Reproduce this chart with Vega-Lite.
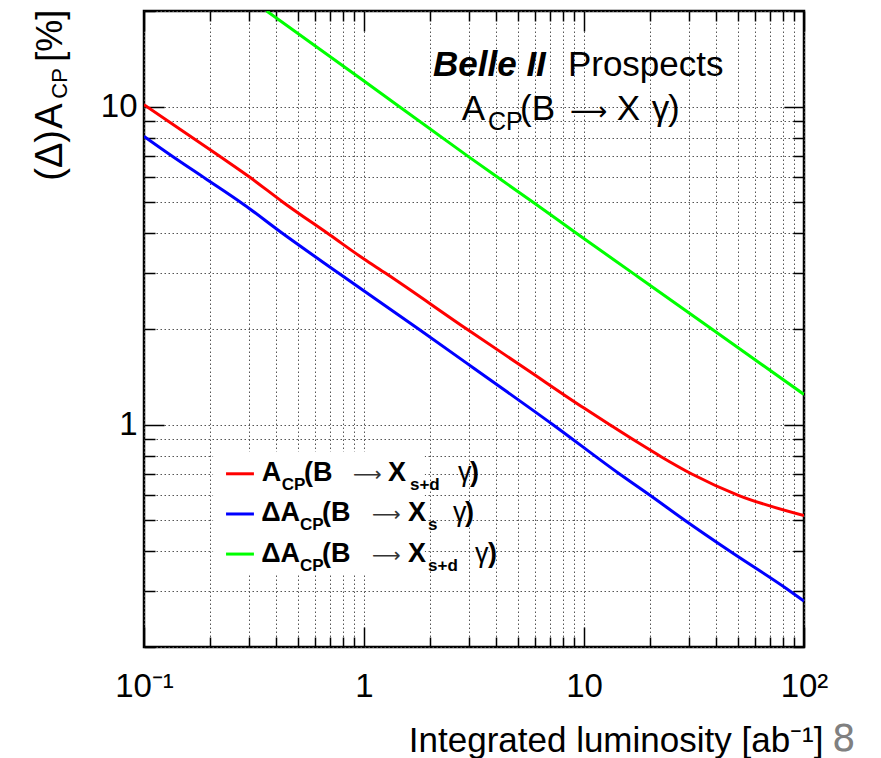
{
  "$schema": "https://vega.github.io/schema/vega-lite/v6.json",
  "width": 660,
  "height": 636,
  "autosize": "none",
  "padding": {"left": 144, "top": 11, "right": 77, "bottom": 111},
  "background": "white",
  "config": {
    "view": {"stroke": "black", "strokeWidth": 2.5},
    "font": "Liberation Sans"
  },
  "data": {"values": [{}]},
  "datasets": {
    "curves": [
      {"series": "ACP(B->Xs+d gamma)", "lumi": 0.1, "value": 10.15},
      {"series": "ACP(B->Xs+d gamma)", "lumi": 0.22, "value": 7.0},
      {"series": "ACP(B->Xs+d gamma)", "lumi": 0.303, "value": 6.0},
      {"series": "ACP(B->Xs+d gamma)", "lumi": 0.43, "value": 5.0},
      {"series": "ACP(B->Xs+d gamma)", "lumi": 0.70, "value": 3.95},
      {"series": "ACP(B->Xs+d gamma)", "lumi": 1.0, "value": 3.32},
      {"series": "ACP(B->Xs+d gamma)", "lumi": 1.25, "value": 3.0},
      {"series": "ACP(B->Xs+d gamma)", "lumi": 2.93, "value": 2.0},
      {"series": "ACP(B->Xs+d gamma)", "lumi": 5.43, "value": 1.5},
      {"series": "ACP(B->Xs+d gamma)", "lumi": 10, "value": 1.128},
      {"series": "ACP(B->Xs+d gamma)", "lumi": 13.1, "value": 1.0},
      {"series": "ACP(B->Xs+d gamma)", "lumi": 17.3, "value": 0.885},
      {"series": "ACP(B->Xs+d gamma)", "lumi": 22.5, "value": 0.792},
      {"series": "ACP(B->Xs+d gamma)", "lumi": 30.9, "value": 0.70},
      {"series": "ACP(B->Xs+d gamma)", "lumi": 50.3, "value": 0.6},
      {"series": "ACP(B->Xs+d gamma)", "lumi": 100, "value": 0.518},
      {"series": "dACP(B->Xs gamma)", "lumi": 0.1, "value": 8.07},
      {"series": "dACP(B->Xs gamma)", "lumi": 0.136, "value": 6.95},
      {"series": "dACP(B->Xs gamma)", "lumi": 0.19, "value": 5.95},
      {"series": "dACP(B->Xs gamma)", "lumi": 0.285, "value": 4.92},
      {"series": "dACP(B->Xs gamma)", "lumi": 0.415, "value": 4.05},
      {"series": "dACP(B->Xs gamma)", "lumi": 0.765, "value": 3.0},
      {"series": "dACP(B->Xs gamma)", "lumi": 1.77, "value": 2.0},
      {"series": "dACP(B->Xs gamma)", "lumi": 3.18, "value": 1.5},
      {"series": "dACP(B->Xs gamma)", "lumi": 7.23, "value": 1.0},
      {"series": "dACP(B->Xs gamma)", "lumi": 14.3, "value": 0.705},
      {"series": "dACP(B->Xs gamma)", "lumi": 19.95, "value": 0.6},
      {"series": "dACP(B->Xs gamma)", "lumi": 28.8, "value": 0.5},
      {"series": "dACP(B->Xs gamma)", "lumi": 46.1, "value": 0.4},
      {"series": "dACP(B->Xs gamma)", "lumi": 83.4, "value": 0.305},
      {"series": "dACP(B->Xs gamma)", "lumi": 100, "value": 0.279},
      {"series": "dACP(B->Xs+d gamma)", "lumi": 0.361, "value": 20.0},
      {"series": "dACP(B->Xs+d gamma)", "lumi": 1.0, "value": 12.05},
      {"series": "dACP(B->Xs+d gamma)", "lumi": 2.93, "value": 7.03},
      {"series": "dACP(B->Xs+d gamma)", "lumi": 5.98, "value": 4.96},
      {"series": "dACP(B->Xs+d gamma)", "lumi": 9.1, "value": 4.03},
      {"series": "dACP(B->Xs+d gamma)", "lumi": 17.1, "value": 2.96},
      {"series": "dACP(B->Xs+d gamma)", "lumi": 40.1, "value": 1.95},
      {"series": "dACP(B->Xs+d gamma)", "lumi": 100, "value": 1.245}
    ]
  },
  "resolve": {"axis": {"x": "independent", "y": "independent"}},
  "layer": [
    {
      "data": {"name": "curves"},
      "mark": {"type": "line", "clip": true, "strokeWidth": 3, "interpolate": "monotone"},
      "encoding": {
        "x": {
          "field": "lumi", "type": "quantitative",
          "scale": {"type": "log", "domain": [0.1, 100], "nice": false},
          "axis": {
            "orient": "bottom",
            "values": [0.1,0.2,0.3,0.4,0.5,0.6,0.7,0.8,0.9,1,2,3,4,5,6,7,8,9,10,20,30,40,50,60,70,80,90,100],
            "grid": true, "gridColor": "#555555", "gridDash": [1.5, 2.5], "gridWidth": 1,
            "domain": false,
            "ticks": true, "tickColor": "black", "tickWidth": 1.5,
            "tickSize": {"condition": {"test": "datum.value === 0.1 || datum.value === 1 || datum.value === 10 || datum.value === 100", "value": -20}, "value": -10},
            "labelExpr": "datum.value === 0.1 ? '10⁻¹' : datum.value === 1 ? '1' : datum.value === 10 ? '10' : datum.value === 100 ? '10²' : ''",
            "labelFont": "Liberation Sans", "labelFontSize": 33, "labelColor": "black",
            "labelOverlap": false, "labelFlush": false, "labelBaseline": "top", "labelPadding": 43,
            "title": "Integrated luminosity [ab⁻¹]",
            "titleFont": "Liberation Sans", "titleFontSize": 35, "titleFontWeight": "normal", "titleColor": "black",
            "titleAlign": "right", "titleAnchor": "end", "titleBaseline": "alphabetic", "titleX": 679, "titleY": 104
          }
        },
        "y": {
          "field": "value", "type": "quantitative",
          "scale": {"type": "log", "domain": [0.2, 20], "nice": false},
          "axis": {
            "orient": "left",
            "values": [0.2,0.3,0.4,0.5,0.6,0.7,0.8,0.9,1,2,3,4,5,6,7,8,9,10,20],
            "grid": true, "gridColor": "#555555", "gridDash": [1.5, 2.5], "gridWidth": 1,
            "domain": false,
            "ticks": true, "tickColor": "black", "tickWidth": 1.5,
            "tickSize": {"condition": {"test": "datum.value === 1 || datum.value === 10", "value": -20}, "value": -11},
            "labelExpr": "datum.value === 1 ? '1' : datum.value === 10 ? '10' : ''",
            "labelFont": "Liberation Sans", "labelFontSize": 33, "labelColor": "black",
            "labelOverlap": false, "labelFlush": false, "labelPadding": 27,
            "title": null
          }
        },
        "color": {
          "field": "series", "type": "nominal",
          "scale": {"domain": ["ACP(B->Xs+d gamma)", "dACP(B->Xs gamma)", "dACP(B->Xs+d gamma)"], "range": ["#ff0000", "#0000ff", "#00ff00"]},
          "legend": null
        }
      }
    },
    {
      "data": {"name": "curves"},
      "mark": {"type": "line", "clip": true, "strokeOpacity": 0},
      "encoding": {
        "x": {
          "field": "lumi", "type": "quantitative",
          "axis": {
            "orient": "top",
            "values": [0.1,0.2,0.3,0.4,0.5,0.6,0.7,0.8,0.9,1,2,3,4,5,6,7,8,9,10,20,30,40,50,60,70,80,90,100],
            "grid": false, "domain": false, "labels": false, "title": null,
            "ticks": true, "tickColor": "black", "tickWidth": 1.5,
            "tickSize": {"condition": {"test": "datum.value === 0.1 || datum.value === 1 || datum.value === 10 || datum.value === 100", "value": -20}, "value": -10}
          }
        },
        "y": {
          "field": "value", "type": "quantitative",
          "axis": {
            "orient": "right",
            "values": [0.2,0.3,0.4,0.5,0.6,0.7,0.8,0.9,1,2,3,4,5,6,7,8,9,10,20],
            "grid": false, "domain": false, "labels": false, "title": null,
            "ticks": true, "tickColor": "black", "tickWidth": 1.5,
            "tickSize": {"condition": {"test": "datum.value === 1 || datum.value === 10", "value": -20}, "value": -11}
          }
        },
        "detail": {"field": "series"}
      }
    },
    {
      "mark": {"type": "rect", "fill": "white"},
      "encoding": {
        "x": {"datum": 0.206, "type": "quantitative", "axis": null},
        "x2": {"datum": 1.89},
        "y": {"datum": 0.822, "type": "quantitative", "axis": null},
        "y2": {"datum": 0.337}
      }
    },
    {"mark": {"type": "rule", "color": "#ff0000", "strokeWidth": 3}, "encoding": {"x": {"datum": 0.236, "type": "quantitative", "axis": null}, "x2": {"datum": 0.316}, "y": {"datum": 0.701, "type": "quantitative", "axis": null}}},
    {"mark": {"type": "rule", "color": "#0000ff", "strokeWidth": 3}, "encoding": {"x": {"datum": 0.236, "type": "quantitative", "axis": null}, "x2": {"datum": 0.316}, "y": {"datum": 0.524, "type": "quantitative", "axis": null}}},
    {"mark": {"type": "rule", "color": "#00ff00", "strokeWidth": 3}, "encoding": {"x": {"datum": 0.236, "type": "quantitative", "axis": null}, "x2": {"datum": 0.316}, "y": {"datum": 0.392, "type": "quantitative", "axis": null}}},

    {"mark": {"type": "text", "text": "A", "align": "left", "baseline": "alphabetic", "fontSize": 27, "fontWeight": "bold", "font": "Liberation Sans"}, "encoding": {"x": {"datum": 0.343, "type": "quantitative", "axis": null}, "y": {"datum": 0.663, "type": "quantitative", "axis": null}}},
    {"mark": {"type": "text", "text": "CP", "align": "left", "baseline": "alphabetic", "fontSize": 17, "fontWeight": "bold", "font": "Liberation Sans"}, "encoding": {"x": {"datum": 0.423, "type": "quantitative", "axis": null}, "y": {"datum": 0.625, "type": "quantitative", "axis": null}}},
    {"mark": {"type": "text", "text": "(B", "align": "left", "baseline": "alphabetic", "fontSize": 27, "fontWeight": "bold", "font": "Liberation Sans"}, "encoding": {"x": {"datum": 0.534, "type": "quantitative", "axis": null}, "y": {"datum": 0.663, "type": "quantitative", "axis": null}}},
    {"mark": {"type": "text", "text": "⟶", "align": "left", "baseline": "alphabetic", "fontSize": 20, "font": "DejaVu Sans", "color": "#333333"}, "encoding": {"x": {"datum": 0.891, "type": "quantitative", "axis": null}, "y": {"datum": 0.663, "type": "quantitative", "axis": null}}},
    {"mark": {"type": "text", "text": "X", "align": "left", "baseline": "alphabetic", "fontSize": 27, "fontWeight": "bold", "font": "Liberation Sans"}, "encoding": {"x": {"datum": 1.285, "type": "quantitative", "axis": null}, "y": {"datum": 0.663, "type": "quantitative", "axis": null}}},
    {"mark": {"type": "text", "text": "s+d", "align": "left", "baseline": "alphabetic", "fontSize": 17, "fontWeight": "bold", "font": "Liberation Sans"}, "encoding": {"x": {"datum": 1.618, "type": "quantitative", "axis": null}, "y": {"datum": 0.625, "type": "quantitative", "axis": null}}},
    {"mark": {"type": "text", "text": "γ", "align": "left", "baseline": "alphabetic", "fontSize": 27, "font": "Liberation Sans"}, "encoding": {"x": {"datum": 2.675, "type": "quantitative", "axis": null}, "y": {"datum": 0.663, "type": "quantitative", "axis": null}}},
    {"mark": {"type": "text", "text": ")", "align": "left", "baseline": "alphabetic", "fontSize": 27, "fontWeight": "bold", "font": "Liberation Sans"}, "encoding": {"x": {"datum": 3.03, "type": "quantitative", "axis": null}, "y": {"datum": 0.663, "type": "quantitative", "axis": null}}},

    {"mark": {"type": "text", "text": "ΔA", "align": "left", "baseline": "alphabetic", "fontSize": 27, "fontWeight": "bold", "font": "Liberation Sans"}, "encoding": {"x": {"datum": 0.341, "type": "quantitative", "axis": null}, "y": {"datum": 0.497, "type": "quantitative", "axis": null}}},
    {"mark": {"type": "text", "text": "CP", "align": "left", "baseline": "alphabetic", "fontSize": 17, "fontWeight": "bold", "font": "Liberation Sans"}, "encoding": {"x": {"datum": 0.512, "type": "quantitative", "axis": null}, "y": {"datum": 0.4675, "type": "quantitative", "axis": null}}},
    {"mark": {"type": "text", "text": "(B", "align": "left", "baseline": "alphabetic", "fontSize": 27, "fontWeight": "bold", "font": "Liberation Sans"}, "encoding": {"x": {"datum": 0.644, "type": "quantitative", "axis": null}, "y": {"datum": 0.497, "type": "quantitative", "axis": null}}},
    {"mark": {"type": "text", "text": "⟶", "align": "left", "baseline": "alphabetic", "fontSize": 20, "font": "DejaVu Sans", "color": "#333333"}, "encoding": {"x": {"datum": 1.087, "type": "quantitative", "axis": null}, "y": {"datum": 0.497, "type": "quantitative", "axis": null}}},
    {"mark": {"type": "text", "text": "X", "align": "left", "baseline": "alphabetic", "fontSize": 27, "fontWeight": "bold", "font": "Liberation Sans"}, "encoding": {"x": {"datum": 1.585, "type": "quantitative", "axis": null}, "y": {"datum": 0.497, "type": "quantitative", "axis": null}}},
    {"mark": {"type": "text", "text": "s", "align": "left", "baseline": "alphabetic", "fontSize": 17, "fontWeight": "bold", "font": "Liberation Sans"}, "encoding": {"x": {"datum": 1.954, "type": "quantitative", "axis": null}, "y": {"datum": 0.4675, "type": "quantitative", "axis": null}}},
    {"mark": {"type": "text", "text": "γ", "align": "left", "baseline": "alphabetic", "fontSize": 27, "font": "Liberation Sans"}, "encoding": {"x": {"datum": 2.54, "type": "quantitative", "axis": null}, "y": {"datum": 0.497, "type": "quantitative", "axis": null}}},
    {"mark": {"type": "text", "text": ")", "align": "left", "baseline": "alphabetic", "fontSize": 27, "fontWeight": "bold", "font": "Liberation Sans"}, "encoding": {"x": {"datum": 2.877, "type": "quantitative", "axis": null}, "y": {"datum": 0.497, "type": "quantitative", "axis": null}}},

    {"mark": {"type": "text", "text": "ΔA", "align": "left", "baseline": "alphabetic", "fontSize": 27, "fontWeight": "bold", "font": "Liberation Sans"}, "encoding": {"x": {"datum": 0.341, "type": "quantitative", "axis": null}, "y": {"datum": 0.369, "type": "quantitative", "axis": null}}},
    {"mark": {"type": "text", "text": "CP", "align": "left", "baseline": "alphabetic", "fontSize": 17, "fontWeight": "bold", "font": "Liberation Sans"}, "encoding": {"x": {"datum": 0.512, "type": "quantitative", "axis": null}, "y": {"datum": 0.3475, "type": "quantitative", "axis": null}}},
    {"mark": {"type": "text", "text": "(B", "align": "left", "baseline": "alphabetic", "fontSize": 27, "fontWeight": "bold", "font": "Liberation Sans"}, "encoding": {"x": {"datum": 0.644, "type": "quantitative", "axis": null}, "y": {"datum": 0.369, "type": "quantitative", "axis": null}}},
    {"mark": {"type": "text", "text": "⟶", "align": "left", "baseline": "alphabetic", "fontSize": 20, "font": "DejaVu Sans", "color": "#333333"}, "encoding": {"x": {"datum": 1.087, "type": "quantitative", "axis": null}, "y": {"datum": 0.369, "type": "quantitative", "axis": null}}},
    {"mark": {"type": "text", "text": "X", "align": "left", "baseline": "alphabetic", "fontSize": 27, "fontWeight": "bold", "font": "Liberation Sans"}, "encoding": {"x": {"datum": 1.585, "type": "quantitative", "axis": null}, "y": {"datum": 0.369, "type": "quantitative", "axis": null}}},
    {"mark": {"type": "text", "text": "s+d", "align": "left", "baseline": "alphabetic", "fontSize": 17, "fontWeight": "bold", "font": "Liberation Sans"}, "encoding": {"x": {"datum": 1.954, "type": "quantitative", "axis": null}, "y": {"datum": 0.3475, "type": "quantitative", "axis": null}}},
    {"mark": {"type": "text", "text": "γ", "align": "left", "baseline": "alphabetic", "fontSize": 27, "font": "Liberation Sans"}, "encoding": {"x": {"datum": 3.195, "type": "quantitative", "axis": null}, "y": {"datum": 0.369, "type": "quantitative", "axis": null}}},
    {"mark": {"type": "text", "text": ")", "align": "left", "baseline": "alphabetic", "fontSize": 27, "fontWeight": "bold", "font": "Liberation Sans"}, "encoding": {"x": {"datum": 3.66, "type": "quantitative", "axis": null}, "y": {"datum": 0.369, "type": "quantitative", "axis": null}}},

    {"mark": {"type": "text", "text": "Belle II", "align": "left", "baseline": "alphabetic", "fontSize": 35, "fontWeight": "bold", "fontStyle": "italic", "font": "Liberation Sans"}, "encoding": {"x": {"datum": 2.059, "type": "quantitative", "axis": null}, "y": {"datum": 12.45, "type": "quantitative", "axis": null}}},
    {"mark": {"type": "text", "text": "Prospects", "align": "left", "baseline": "alphabetic", "fontSize": 35, "font": "Liberation Sans"}, "encoding": {"x": {"datum": 8.45, "type": "quantitative", "axis": null}, "y": {"datum": 12.45, "type": "quantitative", "axis": null}}},
    {"mark": {"type": "text", "text": "A", "align": "left", "baseline": "alphabetic", "fontSize": 35, "font": "Liberation Sans"}, "encoding": {"x": {"datum": 2.78, "type": "quantitative", "axis": null}, "y": {"datum": 9.10, "type": "quantitative", "axis": null}}},
    {"mark": {"type": "text", "text": "CP", "align": "left", "baseline": "alphabetic", "fontSize": 25, "font": "Liberation Sans"}, "encoding": {"x": {"datum": 3.66, "type": "quantitative", "axis": null}, "y": {"datum": 8.47, "type": "quantitative", "axis": null}}},
    {"mark": {"type": "text", "text": "(B", "align": "left", "baseline": "alphabetic", "fontSize": 35, "font": "Liberation Sans"}, "encoding": {"x": {"datum": 5.12, "type": "quantitative", "axis": null}, "y": {"datum": 9.10, "type": "quantitative", "axis": null}}},
    {"mark": {"type": "text", "text": "⟶", "align": "left", "baseline": "alphabetic", "fontSize": 26, "font": "DejaVu Sans"}, "encoding": {"x": {"datum": 8.63, "type": "quantitative", "axis": null}, "y": {"datum": 9.10, "type": "quantitative", "axis": null}}},
    {"mark": {"type": "text", "text": "X", "align": "left", "baseline": "alphabetic", "fontSize": 35, "font": "Liberation Sans"}, "encoding": {"x": {"datum": 14.1, "type": "quantitative", "axis": null}, "y": {"datum": 9.10, "type": "quantitative", "axis": null}}},
    {"mark": {"type": "text", "text": "γ", "align": "left", "baseline": "alphabetic", "fontSize": 35, "font": "Liberation Sans"}, "encoding": {"x": {"datum": 20.3, "type": "quantitative", "axis": null}, "y": {"datum": 9.10, "type": "quantitative", "axis": null}}},
    {"mark": {"type": "text", "text": ")", "align": "left", "baseline": "alphabetic", "fontSize": 35, "font": "Liberation Sans"}, "encoding": {"x": {"datum": 24.1, "type": "quantitative", "axis": null}, "y": {"datum": 9.10, "type": "quantitative", "axis": null}}},

    {"mark": {"type": "text", "text": "(Δ)", "align": "left", "baseline": "alphabetic", "angle": 270, "fontSize": 38, "font": "Liberation Sans"}, "encoding": {"x": {"datum": 0.0424, "type": "quantitative", "axis": null}, "y": {"datum": 5.852, "type": "quantitative", "axis": null}}},
    {"mark": {"type": "text", "text": "A", "align": "left", "baseline": "alphabetic", "angle": 270, "fontSize": 38, "font": "Liberation Sans"}, "encoding": {"x": {"datum": 0.0424, "type": "quantitative", "axis": null}, "y": {"datum": 8.527, "type": "quantitative", "axis": null}}},
    {"mark": {"type": "text", "text": "CP", "align": "left", "baseline": "alphabetic", "angle": 270, "fontSize": 22, "font": "Liberation Sans"}, "encoding": {"x": {"datum": 0.0447, "type": "quantitative", "axis": null}, "y": {"datum": 10.60, "type": "quantitative", "axis": null}}},
    {"mark": {"type": "text", "text": "[%]", "align": "left", "baseline": "alphabetic", "angle": 270, "fontSize": 36, "font": "Liberation Sans"}, "encoding": {"x": {"datum": 0.0424, "type": "quantitative", "axis": null}, "y": {"datum": 13.85, "type": "quantitative", "axis": null}}},

    {"mark": {"type": "text", "text": "8", "align": "left", "baseline": "alphabetic", "fontSize": 37, "font": "DejaVu Sans", "color": "#808080"}, "encoding": {"x": {"datum": 134, "type": "quantitative", "axis": null}, "y": {"datum": 0.094, "type": "quantitative", "axis": null}}}
  ]
}
